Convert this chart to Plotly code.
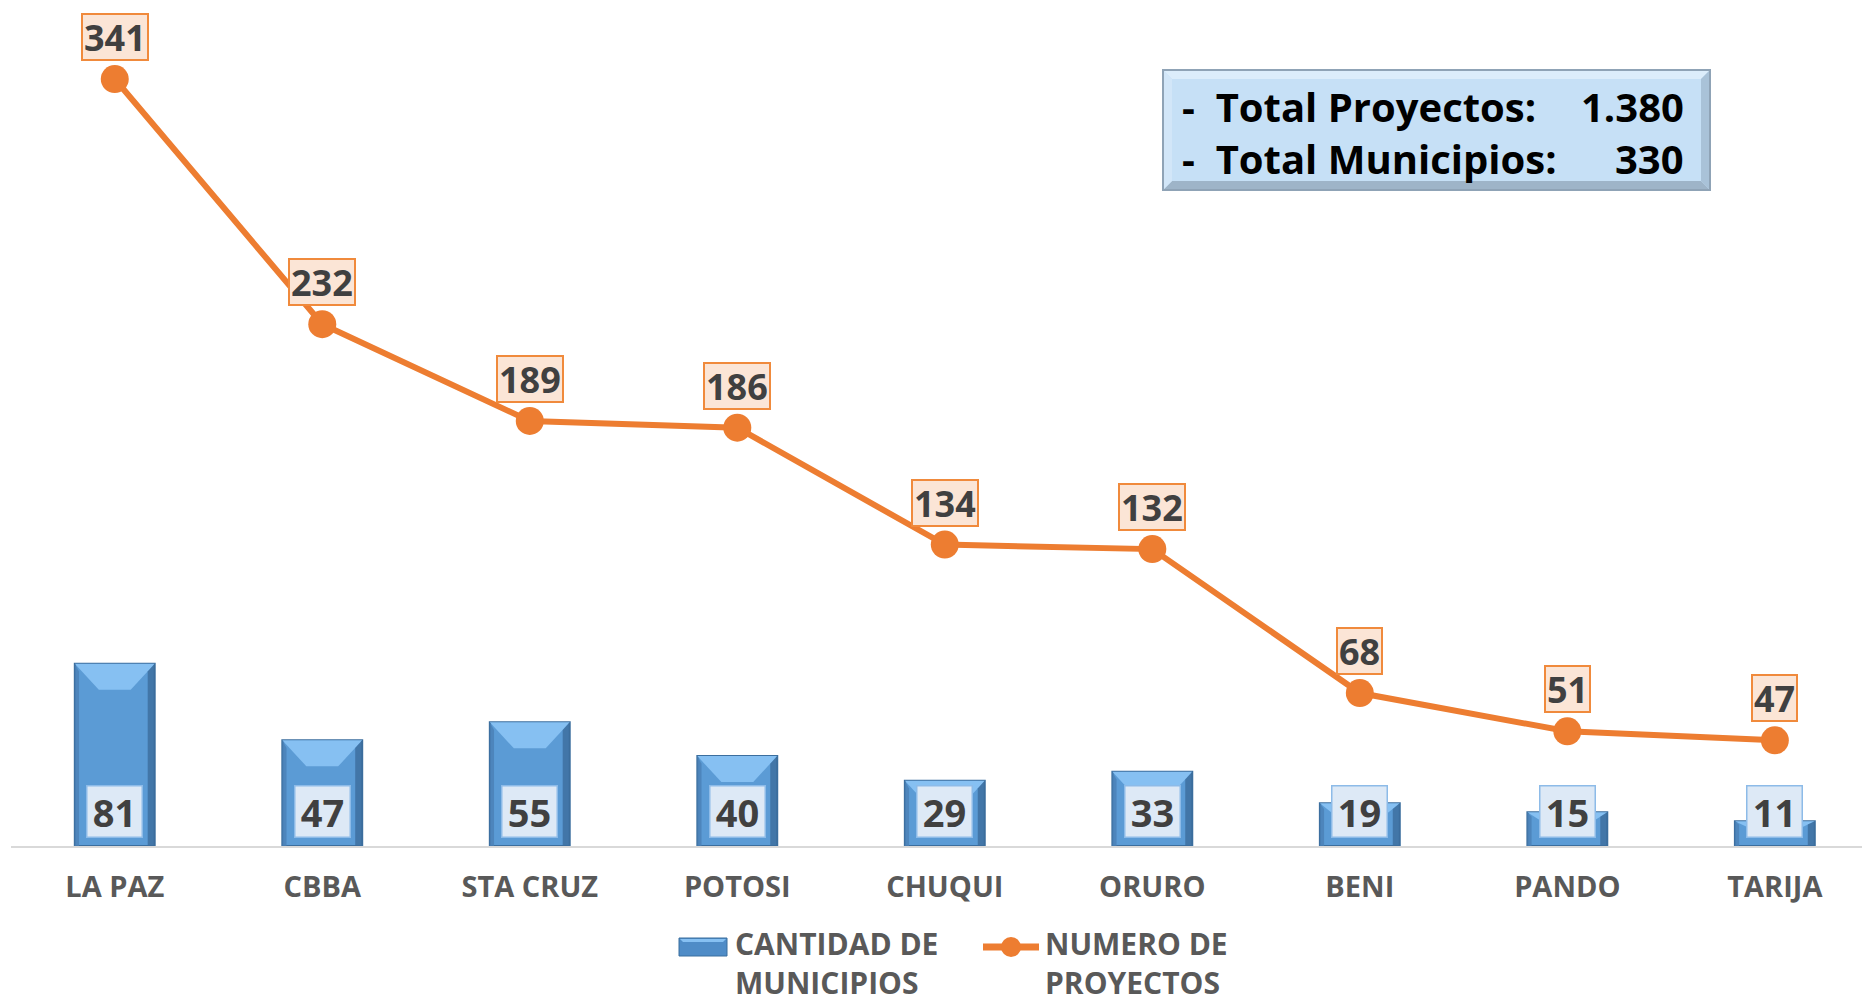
import plotly.graph_objects as go

categories = ["LA PAZ", "CBBA", "STA CRUZ", "POTOSI", "CHUQUI", "ORURO", "BENI", "PANDO", "TARIJA"]
municipios = [81, 47, 55, 40, 29, 33, 19, 15, 11]
proyectos = [341, 232, 189, 186, 134, 132, 68, 51, 47]
bar_name = ["CANTIDAD DE", "MUNICIPIOS"]
line_name = ["NUMERO DE", "PROYECTOS"]
box_lines = [("-  Total Proyectos:", "1.380"), ("-  Total Municipios:", "330")]

W, H = 1862, 1005
ML, MR, MT, MB = 11, 0, 10, 159
PW = W - ML - MR
PH = H - MT - MB
YMAX = 371.7
XR = [-0.5, 8.42]
BAR_W = 0.385

def px(x):
    return (x - ML) / PW

def py(y):
    return (H - MB - y) / PH

FONT = "Open Sans"
GRAY = "#595959"
DARK = "#404040"
ORANGE = "#ed7d31"
BLUE = "#5b9bd5"

unit_px_y = PH / YMAX
unit_px_x = PW / (XR[1] - XR[0])

fig = go.Figure()
fig.add_trace(go.Bar(
    x=categories, y=municipios, name=" ".join(bar_name), width=BAR_W, showlegend=False,
    marker=dict(color=BLUE, line=dict(color="#3b6e9e", width=2)),
))
fig.add_trace(go.Scatter(
    x=categories, y=proyectos, name=" ".join(line_name), mode="lines+markers", showlegend=False,
    line=dict(color=ORANGE, width=6), marker=dict(color=ORANGE, size=28),
))

shapes = []
# bevel effects on bars
for i, v in enumerate(municipios):
    hw = BAR_W / 2
    bh = min(26 / unit_px_y, v * 0.45)
    bw = 24 / unit_px_x
    sw = 7 / unit_px_x
    shapes.append(dict(
        type="path", xref="x", yref="y", layer="above",
        path=f"M {i-hw},{v} L {i+hw},{v} L {i+hw-bw},{v-bh} L {i-hw+bw},{v-bh} Z",
        fillcolor="#86c0f2", line=dict(width=0),
    ))
    shapes.append(dict(
        type="path", xref="x", yref="y", layer="above",
        path=f"M {i+hw},{v} L {i+hw},0 L {i+hw-sw},0 L {i+hw-sw},{v-bh*0.3} Z",
        fillcolor="#3c6d9c", line=dict(width=0), opacity=0.8,
    ))
    shapes.append(dict(
        type="path", xref="x", yref="y", layer="above",
        path=f"M {i-hw},{v} L {i-hw},0 L {i-hw+sw*0.6},0 L {i-hw+sw*0.6},{v-bh*0.3} Z",
        fillcolor="#4a80b5", line=dict(width=0), opacity=0.8,
    ))

annotations = []
for c, v in zip(categories, municipios):
    annotations.append(dict(
        x=c, y=0, text=str(v), showarrow=False, xanchor="center", yanchor="bottom",
        yshift=8, width=54, height=50, borderpad=0, bgcolor="#dde9f6",
        bordercolor="#8dbbe8", borderwidth=1.5,
        font=dict(family=FONT, size=38, color=DARK, weight="bold"),
    ))
for c, v in zip(categories, proyectos):
    annotations.append(dict(
        x=c, y=v, text=str(v), showarrow=False, xanchor="center", yanchor="bottom",
        yshift=18, height=42, borderpad=1, bgcolor="#fbe5d6",
        bordercolor="#f08a3c", borderwidth=2,
        font=dict(family=FONT, size=36, color=DARK, weight="bold"),
    ))

row_y = [107, 158]
for (label, val), ry in zip(box_lines, row_y):
    annotations.append(dict(
        xref="paper", yref="paper", x=px(1180), y=py(ry), text=label, showarrow=False,
        xanchor="left", yanchor="middle",
        font=dict(family=FONT, size=40, color="#000000", weight="bold"),
    ))
    annotations.append(dict(
        xref="paper", yref="paper", x=px(1686), y=py(ry), text=val, showarrow=False,
        xanchor="right", yanchor="middle",
        font=dict(family=FONT, size=40, color="#000000", weight="bold"),
    ))

def ppath(pts):
    return "M " + " L ".join(f"{px(a)},{py(b)}" for a, b in pts) + " Z"

# summary box with bevel
bx0, bx1, by0, by1, bv = 1163, 1710, 70, 190, 9
shapes.append(dict(
    type="rect", xref="paper", yref="paper", x0=px(bx0), x1=px(bx1), y0=py(by1), y1=py(by0),
    fillcolor="#c6e0f6", line=dict(width=0), layer="below",
))
shapes.append(dict(type="path", xref="paper", yref="paper", layer="below", line=dict(width=0),
                   fillcolor="#dcedfb",
                   path=ppath([(bx0, by0), (bx1, by0), (bx1 - bv, by0 + bv), (bx0 + bv, by0 + bv)])))
shapes.append(dict(type="path", xref="paper", yref="paper", layer="below", line=dict(width=0),
                   fillcolor="#9eb4c8",
                   path=ppath([(bx0, by1), (bx1, by1), (bx1 - bv, by1 - bv), (bx0 + bv, by1 - bv)])))
shapes.append(dict(type="path", xref="paper", yref="paper", layer="below", line=dict(width=0),
                   fillcolor="#a9c2d8",
                   path=ppath([(bx1, by0), (bx1, by1), (bx1 - bv, by1 - bv), (bx1 - bv, by0 + bv)])))
shapes.append(dict(type="path", xref="paper", yref="paper", layer="below", line=dict(width=0),
                   fillcolor="#d2e6f8",
                   path=ppath([(bx0, by0), (bx0, by1), (bx0 + bv, by1 - bv), (bx0 + bv, by0 + bv)])))
shapes.append(dict(
    type="rect", xref="paper", yref="paper", x0=px(bx0), x1=px(bx1), y0=py(by1), y1=py(by0),
    fillcolor="rgba(0,0,0,0)", line=dict(color="#8fa3b6", width=2), layer="below",
))

# legend (drawn manually so both two-line entries fit inside the page)
lx0, lx1, ly0, ly1, lbv = 679, 727, 938, 956, 4
shapes.append(dict(type="rect", xref="paper", yref="paper", x0=px(lx0), x1=px(lx1),
                   y0=py(ly1), y1=py(ly0), fillcolor="#4f8cc7",
                   line=dict(color="#3b6e9e", width=1)))
shapes.append(dict(type="path", xref="paper", yref="paper", line=dict(width=0),
                   fillcolor="#86c0f2",
                   path=ppath([(lx0 + 1, ly0 + 1), (lx1 - 1, ly0 + 1), (lx1 - lbv, ly0 + lbv), (lx0 + lbv, ly0 + lbv)])))
shapes.append(dict(type="line", xref="paper", yref="paper", x0=px(983), x1=px(1039),
                   y0=py(947), y1=py(947), line=dict(color=ORANGE, width=7)))
shapes.append(dict(type="circle", xref="paper", yref="paper", x0=px(1001), x1=px(1021),
                   y0=py(957), y1=py(937), fillcolor=ORANGE, line=dict(width=0)))
for name, lx in ((bar_name, 734), (line_name, 1044)):
    annotations.append(dict(
        xref="paper", yref="paper", x=px(lx), y=py(1004), text="<br>".join(name), showarrow=False,
        xanchor="left", yanchor="bottom", align="left", borderpad=0,
        font=dict(family=FONT, size=30, color=GRAY, weight="bold"),
    ))

fig.update_layout(
    width=W, height=H,
    margin=dict(l=ML, r=MR, t=MT, b=MB, autoexpand=False),
    plot_bgcolor="white", paper_bgcolor="white",
    showlegend=False,
    xaxis=dict(
        range=XR, showgrid=False, showline=True, linecolor="#d9d9d9", linewidth=2,
        ticks="outside", ticklen=14, tickcolor="rgba(0,0,0,0)",
        tickfont=dict(family=FONT, size=29, color=GRAY, weight="bold"),
    ),
    yaxis=dict(range=[0, YMAX], visible=False, showgrid=False),
    annotations=annotations,
    shapes=shapes,
)

fig.write_html("out.html", config={"displayModeBar": False},
               post_script="document.body.style.margin='0px';document.body.style.overflow='hidden';")
